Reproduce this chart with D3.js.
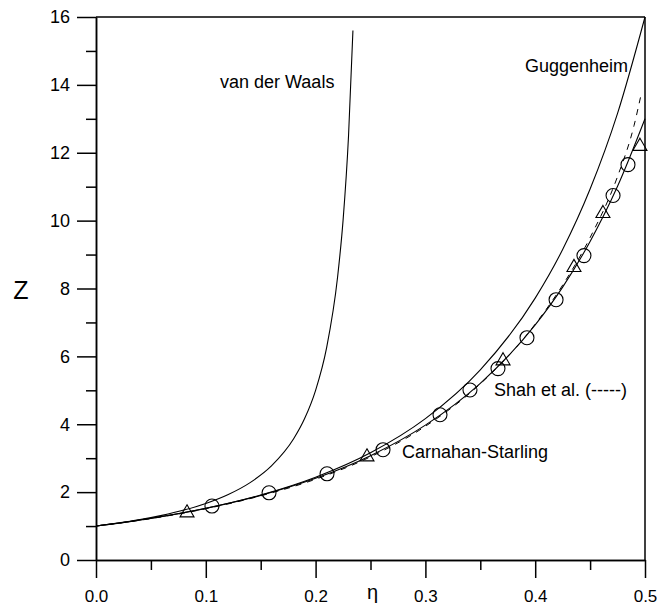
<!DOCTYPE html>
<html>
<head>
<meta charset="utf-8">
<script src="https://cdn.jsdelivr.net/npm/d3@7/dist/d3.min.js"></script>
<style>
body { margin: 0; background: #fff; }
svg { display: block; }
text { font-family: "Liberation Sans", Arial, sans-serif; fill: #000; }
</style>
</head>
<body>
<div id="chart"></div>
<script>
// values
var etaVdw = [0, 0.02, 0.04, 0.06, 0.08, 0.10, 0.12, 0.14, 0.16, 0.18, 0.19, 0.20, 0.21, 0.22, 0.225, 0.23, 0.234];
var zVdw   = [1, 1.087, 1.19, 1.316, 1.471, 1.667, 1.923, 2.273, 2.778, 3.571, 4.167, 5.0, 6.25, 8.333, 10.0, 12.5, 15.6];

var etaGug = [0, 0.05, 0.10, 0.15, 0.20, 0.25, 0.30, 0.35, 0.40, 0.425, 0.45, 0.475, 0.5];
var zGug   = [1, 1.228, 1.524, 1.916, 2.441, 3.16, 4.165, 5.602, 7.716, 9.149, 10.93, 13.16, 16.0];

var etaCS = [0, 0.05, 0.10, 0.15, 0.20, 0.25, 0.30, 0.35, 0.40, 0.425, 0.45, 0.475, 0.5];
var zCS   = [1, 1.227, 1.521, 1.904, 2.406, 3.074, 3.974, 5.206, 6.926, 8.042, 9.385, 11.01, 13.0];

var etaShah = [0, 0.05, 0.10, 0.15, 0.20, 0.25, 0.30, 0.35, 0.40, 0.425, 0.45, 0.475, 0.49, 0.497];
var zShah   = [1, 1.22, 1.51, 1.89, 2.38, 3.04, 3.94, 5.19, 6.95, 8.1, 9.5, 11.3, 12.8, 13.8];

var etaCircle = [0.1056, 0.1576, 0.2104, 0.2614, 0.3133, 0.3406, 0.3661, 0.3925, 0.419, 0.4444, 0.4709, 0.4845];
var zCircle   = [1.59, 1.98, 2.54, 3.25, 4.28, 5.01, 5.64, 6.55, 7.67, 8.97, 10.74, 11.65];

var etaTri = [0.0829, 0.2468, 0.3707, 0.4353, 0.4617, 0.4954];
var zTri   = [1.39, 3.04, 5.87, 8.62, 10.21, 12.19];

var xMajor = [0, 0.1, 0.2, 0.3, 0.4, 0.5];
var xMinor = [0.05, 0.15, 0.25, 0.35, 0.45];
var yMajor = [0, 2, 4, 6, 8, 10, 12, 14, 16];
var yMinor = [1, 3, 5, 7, 9, 11, 13, 15];

var width = 657, height = 607;

var svg = d3.select("#chart").append("svg")
    .attr("width", width)
    .attr("height", height);

var x = d3.scaleLinear().domain([0, 0.5]).range([96, 645]);
var y = d3.scaleLinear().domain([0, 16]).range([560, 17]);

function pts(xs, ys) {
    return xs.map(function(d, i) { return [d, ys[i]]; });
}

// axes
svg.append("g")
    .attr("transform", "translate(0," + y(0) + ")")
    .call(d3.axisBottom(x).tickValues(xMinor).tickSize(10).tickSizeOuter(0).tickFormat(""));
var xAxis = svg.append("g")
    .attr("transform", "translate(0," + y(0) + ")")
    .call(d3.axisBottom(x).tickValues(xMajor).tickSize(18).tickSizeOuter(0).tickPadding(12).tickFormat(d3.format(".1f")));

svg.append("g")
    .attr("transform", "translate(" + x(0) + ",0)")
    .call(d3.axisLeft(y).tickValues(yMinor).tickSize(10).tickSizeOuter(0).tickFormat(""));
var yAxis = svg.append("g")
    .attr("transform", "translate(" + x(0) + ",0)")
    .call(d3.axisLeft(y).tickValues(yMajor).tickSize(19).tickSizeOuter(0).tickPadding(7).tickFormat(d3.format("d")));

svg.selectAll(".domain, .tick line").attr("stroke", "#000").attr("stroke-width", 1.5);
xAxis.selectAll("text").style("font-size", "17px");
yAxis.selectAll("text").style("font-size", "18px");

// frame top and right
svg.append("line")
    .attr("x1", x(0)).attr("x2", x(0.5)).attr("y1", y(16)).attr("y2", y(16))
    .attr("stroke", "#000").attr("stroke-width", 1.5);
svg.append("line")
    .attr("x1", x(0.5)).attr("x2", x(0.5)).attr("y1", y(16)).attr("y2", y(0))
    .attr("stroke", "#000").attr("stroke-width", 1.5);

// axis titles
svg.append("text")
    .attr("x", 21).attr("y", 299)
    .attr("text-anchor", "middle")
    .style("font-size", "25px")
    .text("Z");
svg.append("text")
    .attr("x", x(0.25) + 2).attr("y", 599)
    .attr("text-anchor", "middle")
    .style("font-size", "20px")
    .text("η");

// curves
var line = d3.line()
    .x(function(d) { return x(d[0]); })
    .y(function(d) { return y(d[1]); })
    .curve(d3.curveMonotoneX);

svg.append("path").datum(pts(etaVdw, zVdw))
    .attr("d", line).attr("fill", "none").attr("stroke", "#000").attr("stroke-width", 1.1);
svg.append("path").datum(pts(etaGug, zGug))
    .attr("d", line).attr("fill", "none").attr("stroke", "#000").attr("stroke-width", 1.1);
svg.append("path").datum(pts(etaCS, zCS))
    .attr("d", line).attr("fill", "none").attr("stroke", "#000").attr("stroke-width", 1.1);
svg.append("path").datum(pts(etaShah, zShah))
    .attr("d", line).attr("fill", "none").attr("stroke", "#000").attr("stroke-width", 1)
    .attr("stroke-dasharray", "6,6");

// simulation points
svg.selectAll(".circ")
    .data(pts(etaCircle, zCircle))
    .enter().append("circle")
    .attr("class", "circ")
    .attr("cx", function(d) { return x(d[0]); })
    .attr("cy", function(d) { return y(d[1]); })
    .attr("r", 7)
    .attr("fill", "none")
    .attr("stroke", "#000")
    .attr("stroke-width", 1.1);

var tri = d3.symbol().type(d3.symbolTriangle).size(85);
svg.selectAll(".tri")
    .data(pts(etaTri, zTri))
    .enter().append("path")
    .attr("class", "tri")
    .attr("transform", function(d) { return "translate(" + x(d[0]) + "," + y(d[1]) + ")"; })
    .attr("d", tri)
    .attr("fill", "none")
    .attr("stroke", "#000")
    .attr("stroke-width", 1.1);

// curve labels
svg.append("text").attr("x", 220).attr("y", 88).style("font-size", "18px").text("van der Waals");
svg.append("text").attr("x", 525).attr("y", 72).style("font-size", "18px").text("Guggenheim");
svg.append("text").attr("x", 494).attr("y", 396).style("font-size", "18px").text("Shah et al. (-----)");
svg.append("text").attr("x", 402).attr("y", 458).style("font-size", "18px").text("Carnahan-Starling");
</script>
</body>
</html>
